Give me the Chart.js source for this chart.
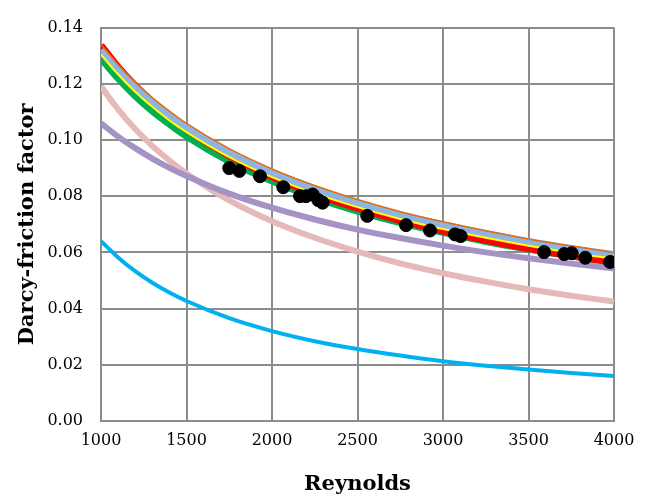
<!DOCTYPE html>
<html>
<head>
<meta charset="utf-8">
<script src="https://cdn.jsdelivr.net/npm/chart.js@4.4.0/dist/chart.umd.min.js"></script>
<style>
  html, body { margin: 0; padding: 0; background: #fff; }
  #chart { display: block; }
</style>
</head>
<body>
<canvas id="chart" width="651" height="500"></canvas>
<script>
// Reynolds values where the curves were read
var reynolds = [1000, 1100, 1200, 1300, 1400, 1500, 1750, 2000, 2250, 2500, 2750, 3000, 3250, 3500, 3750, 4000];

// friction factor curves
var laminar   = [0.0640, 0.0582, 0.0533, 0.0492, 0.0457, 0.0427, 0.0366, 0.0320, 0.0284, 0.0256, 0.0233, 0.0213, 0.0197, 0.0183, 0.0171, 0.0160];
var pinkLine  = [0.1190, 0.1109, 0.1039, 0.0979, 0.0927, 0.0881, 0.0785, 0.0711, 0.0652, 0.0603, 0.0561, 0.0526, 0.0496, 0.0469, 0.0446, 0.0425];
var purpleLine= [0.1060, 0.1012, 0.0971, 0.0934, 0.0901, 0.0872, 0.0809, 0.0759, 0.0717, 0.0681, 0.0651, 0.0624, 0.0600, 0.0579, 0.0560, 0.0543];
var greenLine = [0.1290, 0.1219, 0.1157, 0.1103, 0.1056, 0.1013, 0.0924, 0.0854, 0.0796, 0.0747, 0.0706, 0.0671, 0.0639, 0.0612, 0.0587, 0.0565];
var redLine   = [0.1337, 0.1260, 0.1194, 0.1136, 0.1085, 0.1039, 0.0944, 0.0869, 0.0808, 0.0757, 0.0713, 0.0676, 0.0643, 0.0614, 0.0588, 0.0565];
var blueLine  = [0.1320, 0.1249, 0.1187, 0.1133, 0.1086, 0.1043, 0.0954, 0.0882, 0.0824, 0.0775, 0.0733, 0.0697, 0.0666, 0.0637, 0.0612, 0.0590];
var orangeLine= [0.1340, 0.1268, 0.1206, 0.1151, 0.1103, 0.1059, 0.0969, 0.0897, 0.0838, 0.0788, 0.0745, 0.0709, 0.0677, 0.0648, 0.0623, 0.0600];
var yellowLine= [0.1305, 0.1234, 0.1172, 0.1118, 0.1070, 0.1028, 0.0939, 0.0868, 0.0810, 0.0761, 0.0719, 0.0683, 0.0652, 0.0624, 0.0599, 0.0577];

// measured points
var expRe = [1750, 1809, 1930, 2066, 2164, 2199, 2238, 2271, 2296, 2557, 2784, 2924, 3070, 3103, 3591, 3709, 3753, 3832, 3977];
var expF  = [0.0900, 0.0890, 0.0871, 0.0832, 0.0800, 0.0800, 0.0806, 0.0786, 0.0777, 0.0730, 0.0697, 0.0678, 0.0664, 0.0658, 0.0601, 0.0594, 0.0597, 0.0581, 0.0566];

var xTicks = [1000, 1500, 2000, 2500, 3000, 3500, 4000];
var yTicks = [0, 0.02, 0.04, 0.06, 0.08, 0.10, 0.12, 0.14];

function pts(xs, ys) {
  return xs.map(function (x, i) { return { x: x, y: ys[i] }; });
}

function curve(ys, color, width, order) {
  return {
    type: 'line',
    data: pts(reynolds, ys),
    borderColor: color,
    borderWidth: width,
    pointRadius: 0,
    fill: false,
    showLine: true,
    cubicInterpolationMode: 'monotone',
    order: order
  };
}

var gridColor = '#8c8c8c';
var tickFont = { family: 'DejaVu Serif', size: 16 };
var titleFont = { family: 'DejaVu Serif', size: 21, weight: 'bold' };

var ctx = document.getElementById('chart').getContext('2d');
var chart = new Chart(ctx, {
  type: 'scatter',
  data: {
    datasets: [
      {
        data: pts(expRe, expF),
        backgroundColor: '#000',
        borderColor: '#000',
        pointRadius: 6.5,
        pointHoverRadius: 6.5,
        showLine: false,
        order: 0
      },
      curve(yellowLine, '#ffff00', 2, 1),
      curve(orangeLine, '#e46c0a', 1.5, 2),
      curve(blueLine, '#8eb4e3', 8, 3),
      curve(redLine, '#ff0000', 7, 4),
      curve(greenLine, '#00b050', 7, 5),
      curve(purpleLine, '#a693c6', 6, 6),
      curve(pinkLine, '#e6b9b8', 6, 7),
      curve(laminar, '#00b0f0', 4, 8)
    ]
  },
  options: {
    responsive: false,
    animation: false,
    events: [],
    layout: { padding: { top: 18, right: 37, left: 0, bottom: 0 } },
    plugins: {
      legend: { display: false },
      tooltip: { enabled: false }
    },
    scales: {
      x: {
        type: 'linear',
        min: 1000,
        max: 4000,
        afterBuildTicks: function (s) { s.ticks = xTicks.map(function (v) { return { value: v }; }); },
        afterFit: function (s) { s.height = 79; },
        ticks: {
          color: '#000', font: tickFont, padding: 10, maxRotation: 0,
          callback: function (v) { return String(v); }
        },
        grid: { color: gridColor, lineWidth: 2, drawTicks: false },
        border: { color: gridColor, width: 2 },
        title: { display: true, text: 'Reynolds', color: '#000', font: titleFont, padding: { top: 0, bottom: 3 } }
      },
      y: {
        type: 'linear',
        min: 0,
        max: 0.14,
        afterBuildTicks: function (s) { s.ticks = yTicks.map(function (v) { return { value: v }; }); },
        afterFit: function (s) { s.width = 101; },
        ticks: {
          color: '#000', font: tickFont, padding: 18,
          callback: function (v) { return Number(v).toFixed(2); }
        },
        grid: { color: gridColor, lineWidth: 2, drawTicks: false },
        border: { color: gridColor, width: 2 },
        title: { display: true, text: 'Darcy-friction factor', color: '#000', font: titleFont, padding: { top: 15, bottom: 0 } }
      }
    }
  }
});
</script>
</body>
</html>
